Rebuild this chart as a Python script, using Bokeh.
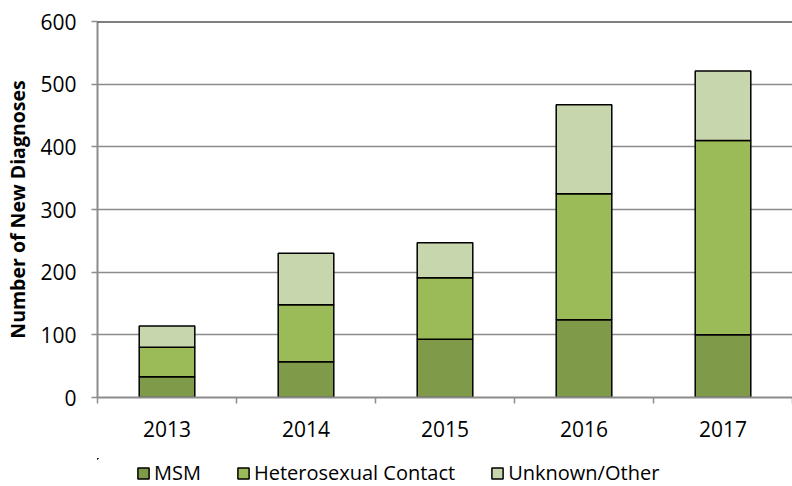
from bokeh.plotting import figure
from bokeh.layouts import column
from bokeh.models import (ColumnDataSource, Range1d, FixedTicker, SingleIntervalTicker,
                          CustomJSTickFormatter, Legend, LegendItem, Span)
from bokeh.embed import file_html
from bokeh.resources import INLINE

years = ["2013", "2014", "2015", "2016", "2017"]
msm = [33, 57, 93, 124, 100]
hetero = [47, 91, 98, 201, 310]
unknown = [34, 82, 56, 142, 111]
series_names = ["MSM", "Heterosexual Contact", "Unknown/Other"]
colors = ["#7F9A48", "#9BBB59", "#C8D6AE"]
y_ticks_interval = 100
y_max = 600

FONT = "Open Sans"
GRID = "#8c8c8c"

x = [i + 0.5 for i in range(len(years))]
source = ColumnDataSource(dict(x=x, MSM=msm, Hetero=hetero, Unknown=unknown))
stackers = ["MSM", "Hetero", "Unknown"]

p = figure(width=792, height=458, x_range=Range1d(0, len(years)),
           y_range=Range1d(0, y_max), output_backend="svg", toolbar_location=None,
           min_border_left=97, min_border_right=0, min_border_top=21, min_border_bottom=61)
p.outline_line_color = None
p.background_fill_color = "white"
p.border_fill_color = "white"

rs = p.vbar_stack(stackers, x="x", width=0.4, source=source,
                  fill_color=colors, line_color="black", line_width=1.5)

p.add_layout(Span(location=y_max, dimension="width", line_color="black", line_width=2,
                  level="overlay"))

# x axis
p.xgrid.visible = False
p.xaxis.ticker = FixedTicker(ticks=x, minor_ticks=list(range(len(years) + 1)))
p.xaxis.formatter = CustomJSTickFormatter(args=dict(years=years),
                                          code="return years[Math.floor(tick)];")
p.xaxis.major_tick_line_color = None
p.xaxis.major_tick_out = 0
p.xaxis.major_tick_in = 0
p.xaxis.minor_tick_in = 0
p.xaxis.minor_tick_out = 6
p.xaxis.minor_tick_line_color = GRID
p.xaxis.minor_tick_line_width = 1.5
p.xaxis.axis_line_color = GRID
p.xaxis.axis_line_width = 2
p.xaxis.major_label_standoff = 17
p.xaxis.major_label_text_font = FONT
p.xaxis.major_label_text_font_size = "21px"
p.xaxis.major_label_text_color = "black"

# y axis
p.yaxis.ticker = SingleIntervalTicker(interval=y_ticks_interval, num_minor_ticks=0)
p.ygrid.ticker = SingleIntervalTicker(interval=y_ticks_interval, num_minor_ticks=0)
p.ygrid.grid_line_color = GRID
p.ygrid.grid_line_width = 1.5
p.yaxis.axis_line_color = GRID
p.yaxis.axis_line_width = 2
p.yaxis.major_tick_line_color = GRID
p.yaxis.major_tick_line_width = 1.5
p.yaxis.major_tick_in = 0
p.yaxis.major_tick_out = 6
p.yaxis.minor_tick_line_color = None
p.yaxis.major_label_standoff = 15
p.yaxis.major_label_text_font = FONT
p.yaxis.major_label_text_font_size = "21px"
p.yaxis.major_label_text_color = "black"
p.yaxis.axis_label = "Number of New Diagnoses"
p.yaxis.axis_label_text_font = FONT
p.yaxis.axis_label_text_font_style = "bold"
p.yaxis.axis_label_text_font_size = "19.5px"
p.yaxis.axis_label_text_color = "black"
p.yaxis.axis_label_standoff = 6

# legend strip below the chart (same glyph styles, bars kept out of view)
p2 = figure(width=792, height=28, x_range=Range1d(10, 11), y_range=Range1d(-2, -1),
            output_backend="svg", toolbar_location=None, x_axis_type=None, y_axis_type=None,
            min_border=0)
p2.outline_line_color = None
p2.grid.visible = False
rs2 = p2.vbar_stack(stackers, x="x", width=0.4, source=source,
                    fill_color=colors, line_color="black", line_width=1.5)
legend = Legend(items=[LegendItem(label=n, renderers=[r]) for n, r in zip(series_names, rs2)],
                orientation="horizontal", location=(39, 0),
                glyph_width=14, glyph_height=14, label_standoff=4, spacing=35,
                padding=0, margin=0, border_line_color=None, background_fill_alpha=0,
                label_text_font=FONT, label_text_font_size="20px", label_text_color="black")
p2.add_layout(legend, "center")

layout = column(p, p2, spacing=0)
open("out.html", "w").write(file_html(layout, INLINE))
